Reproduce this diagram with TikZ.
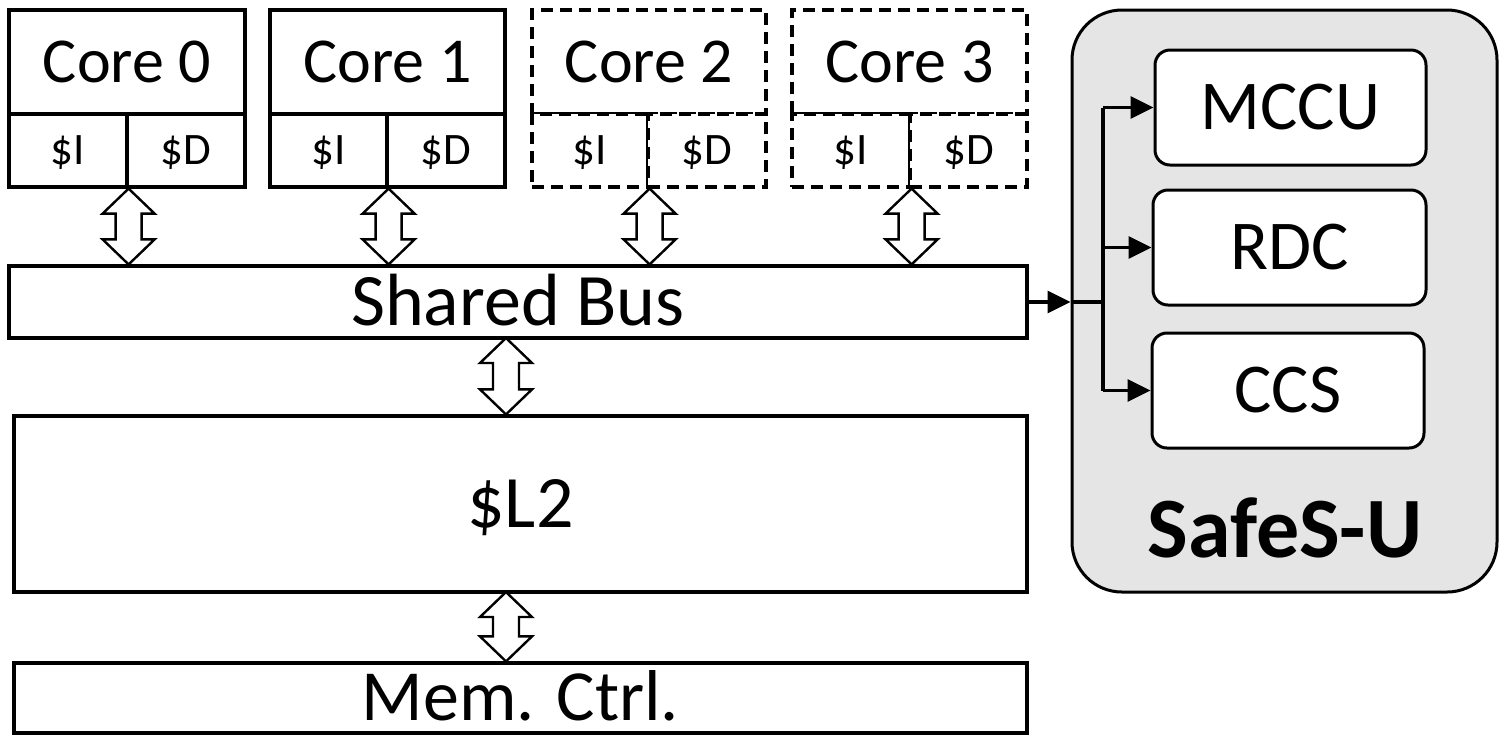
\documentclass[tikz,border=0pt]{standalone}
\usepackage{fontspec}
\setmainfont{Carlito}
\usetikzlibrary{fit,calc,arrows.meta}
\tikzset{
  capc/.style={text height=#1,text depth=0pt,inner sep=0pt},
  box/.style={draw,line width=1.6pt,inner sep=0pt,fill=white},
  dbox/.style={box,dash pattern=on 6pt off 3.5pt},
  corefont/.style={capc=20.2pt,font=\fontsize{32}{36}\selectfont},
  cachefont/.style={capc=14.2pt,font=\fontsize{22.5}{26}\selectfont},
  bigfont/.style={capc=23.4pt,font=\fontsize{37}{42}\selectfont},
  memfont/.style={capc=22.7pt,font=\fontsize{36}{40}\selectfont},
  unitfont/.style={capc=22.1pt,font=\fontsize{35}{40}\selectfont},
  safefont/.style={capc=27.2pt,font=\fontsize{43}{48}\selectfont\bfseries},
  unitbox/.style={draw,line width=1.5pt,inner sep=0pt,fill=white,rounded corners=7.5pt},
  safebox/.style={draw,line width=1.5pt,fill=gray!20,rounded corners=25pt,inner sep=0pt},
  dblarrow/.style={draw,line width=1.2pt,fill=white,line join=miter},
  conn/.style={line width=1.6pt,-{Triangle[length=11.5pt,width=11pt]}},
  plain/.style={line width=1.6pt},
}
\newcommand\dblarr[2]{%
  \path[dblarrow] let \p1=(#1), \p2=(#2) in
   (\x1,\y1) -- (\x1+13pt,\y1-12.5pt) -- (\x1+6.5pt,\y1-12.5pt) --
   (\x1+6.5pt,\y2+12.5pt) -- (\x1+13pt,\y2+12.5pt) -- (\x1,\y2) --
   (\x1-13pt,\y2+12.5pt) -- (\x1-6.5pt,\y2+12.5pt) --
   (\x1-6.5pt,\y1-12.5pt) -- (\x1-13pt,\y1-12.5pt) -- cycle;}
\begin{document}
\begin{tikzpicture}[x=0.5pt,y=-0.5pt]
\useasboundingbox (0,0) rectangle (1500,736);
% SafeS-U container
\node[safebox,fit={(1072,10) (1497,592)}] (safe) {};
\node[safefont] (safelbl) at (1285,530) {SafeS-U};
\node[unitbox,fit={(1155,50) (1426,165)}] (mccu) {};
\node[unitfont] (mccut) at (mccu.center) {MCCU};
\node[unitbox,fit={(1153,190) (1426,305)}] (rdc) {};
\node[unitfont] (rdct) at (rdc.center) {RDC};
\node[unitbox,fit={(1152,333) (1424,448)}] (ccs) {};
\node[unitfont] (ccst) at (ccs.center) {CCS};
% cores
\node[box,fit={(9,10) (245,114)}] (c0) {};
\node[box,fit={(9,114) (127,187)}] (c0i) {};
\node[box,fit={(127,114) (245,187)}] (c0d) {};
\node[box,fit={(270,10) (505,114)}] (c1) {};
\node[box,fit={(270,114) (387,187)}] (c1i) {};
\node[box,fit={(387,114) (505,187)}] (c1d) {};
\node[dbox,fit={(532,10) (766,114)}] (c2) {};
\node[dbox,fit={(532,114) (648,187)}] (c2i) {};
\node[dbox,fit={(648,114) (766,187)}] (c2d) {};
\node[dbox,fit={(792,10) (1027,114)}] (c3) {};
\node[dbox,fit={(792,114) (910,187)}] (c3i) {};
\node[dbox,fit={(910,114) (1027,187)}] (c3d) {};
\foreach \c/\n in {c0/0,c1/1,c2/2,c3/3}{
  \node[corefont] (\c t) at (\c.center) {Core \n};
  \node[cachefont] (\c it) at (\c i.center) {\$I};
  \node[cachefont] (\c dt) at (\c d.center) {\$D};
}
% bus, L2, memory controller
\node[box,fit={(9,266) (1027,338)}] (bus) {};
\node[bigfont] (bust) at (bus.center) {Shared Bus};
\node[box,fit={(14,416) (1027,592)}] (l2) {};
\node[bigfont] (l2t) at (l2.center) {\$L2};
\node[box,fit={(14,663) (1027,733)}] (mem) {};
\node[memfont] (memt) at (mem.center) {Mem. Ctrl.};
% double arrows
\dblarr{c0i.south east}{c0i.south east |- bus.north}
\dblarr{c1i.south east}{c1i.south east |- bus.north}
\dblarr{c2i.south east}{c2i.south east |- bus.north}
\dblarr{c3i.south east}{c3i.south east |- bus.north}
\coordinate (busl2) at (506,338);
\coordinate (l2mem) at (506,592);
\dblarr{busl2}{busl2 |- l2.north}
\dblarr{l2mem}{l2mem |- mem.north}
% connections to SafeS-U
\coordinate (entry) at (safe.west |- bus.east);
\coordinate (trunk) at (1103,0);
\coordinate (tmid) at (trunk |- bus.east);
\coordinate (ttop) at (trunk |- mccu.west);
\coordinate (tbot) at (trunk |- ccs.west);
\draw[conn] (bus.east) -- (entry);
\draw[plain] (entry) -- (tmid);
\draw[plain] (ttop) -- (tbot);
\draw[conn] (ttop) -- (mccu.west);
\draw[conn] (trunk |- rdc.west) -- (rdc.west);
\draw[conn] (tbot) -- (ccs.west);
\end{tikzpicture}
\end{document}
